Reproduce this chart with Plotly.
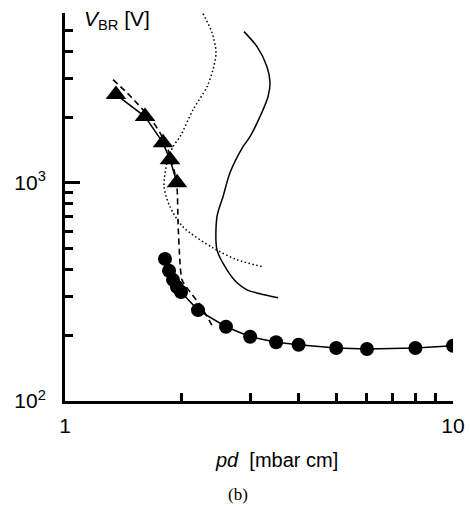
import plotly.graph_objects as go

# ---- data (pd in mbar cm, V_BR in V) ----
tri_pd = [1.353, 1.608, 1.789, 1.865, 1.944]
tri_v = [2535, 2010, 1524, 1276, 1000]

circ_pd = [1.81, 1.854, 1.898, 1.944, 1.991, 2.202, 2.60, 3.0, 3.5, 4.0, 5.0, 6.0, 8.0, 10.0]
circ_v = [448, 395, 359, 333, 316, 261, 219, 197, 186, 181, 175, 173, 175, 179]

dash_pd = [1.33, 1.47, 1.656, 1.757, 1.843, 1.91, 1.944, 1.956, 1.979, 2.002, 2.10, 2.228, 2.407]
dash_v = [2970, 2506, 1988, 1696, 1417, 1147, 959, 655, 430, 359, 316, 276, 218]

dot_pd = [2.268, 2.393, 2.45, 2.407, 2.323, 2.138, 1.979, 1.898, 1.832, 1.80, 1.865, 2.014, 2.407, 2.776, 3.238]
dot_v = [5957, 4875, 3948, 3299, 2757, 2162, 1626, 1463, 1235, 959, 776, 628, 503, 444, 412]

sol_pd = [2.893, 3.125, 3.316, 3.376, 3.336, 3.181, 2.998, 2.876, 2.662, 2.554, 2.464, 2.464, 2.615, 2.776, 2.945, 3.181, 3.54]
sol_v = [4928, 4207, 3405, 2876, 2480, 2009, 1626, 1463, 1111, 863, 698, 493, 399, 348, 323, 310, 297]

x_major = [1, 10]
x_major_text = ["1", "10"]
x_minor = [2, 3, 4, 5, 6, 7, 8, 9]
y_major = [100, 1000]
y_major_text = ["10<sup>2</sup>", "10<sup>3</sup>"]
y_minor = [200, 300, 400, 500, 600, 700, 800, 900, 2000, 3000, 4000, 5000, 6000]

FONT = "Liberation Sans, Arial, sans-serif"

fig = go.Figure()
fig.add_trace(go.Scatter(x=dot_pd, y=dot_v, mode="lines",
                         line=dict(color="black", width=1.5, dash="1.5px,2.5px", shape="spline", smoothing=0.8)))
fig.add_trace(go.Scatter(x=sol_pd, y=sol_v, mode="lines",
                         line=dict(color="black", width=1.5, shape="spline", smoothing=0.8)))
fig.add_trace(go.Scatter(x=dash_pd, y=dash_v, mode="lines",
                         line=dict(color="black", width=1.6, dash="6px,4px", shape="spline", smoothing=0.6)))
fig.add_trace(go.Scatter(x=tri_pd, y=tri_v, mode="lines+markers",
                         line=dict(color="black", width=1.5),
                         marker=dict(symbol="triangle-up", size=18, color="black")))
fig.add_trace(go.Scatter(x=circ_pd, y=circ_v, mode="lines+markers",
                         line=dict(color="black", width=1.5),
                         marker=dict(symbol="circle", size=14, color="black")))

fig.update_layout(
    width=470, height=508,
    margin=dict(l=65, r=17, t=13, b=107, autoexpand=False),
    paper_bgcolor="white", plot_bgcolor="white",
    showlegend=False,
    font=dict(family=FONT, size=21, color="black"),
)
fig.update_xaxes(
    type="log", range=[0, 1], automargin=False,
    showgrid=False, zeroline=False,
    showline=True, linecolor="black", linewidth=3,
    tickmode="array", tickvals=x_major, ticktext=x_major_text,
    ticks="inside", ticklen=14, tickwidth=3, tickcolor="black",
    ticklabelstandoff=4,
    tickfont=dict(family=FONT, size=21),
    minor=dict(tickmode="array", tickvals=x_minor, ticks="inside", ticklen=8, tickwidth=3,
               tickcolor="black", showgrid=False),
)
fig.update_yaxes(
    type="log", range=[2, 3.778], automargin=False,
    showgrid=False, zeroline=False,
    showline=True, linecolor="black", linewidth=3,
    tickmode="array", tickvals=y_major, ticktext=y_major_text,
    ticks="inside", ticklen=15, tickwidth=3, tickcolor="black",
    ticklabelstandoff=12,
    tickfont=dict(family=FONT, size=21),
    minor=dict(tickmode="array", tickvals=y_minor, ticks="inside", ticklen=8, tickwidth=3,
               tickcolor="black", showgrid=False),
)

fig.add_annotation(xref="paper", yref="paper", x=0.546, y=-0.152,
                   text="<i>pd</i>  [mbar cm]", showarrow=False,
                   xanchor="center", yanchor="middle",
                   font=dict(family=FONT, size=20, color="black"))
fig.add_annotation(xref="paper", yref="paper", x=0.446, y=-0.242,
                   text="(b)", showarrow=False,
                   xanchor="center", yanchor="middle",
                   font=dict(family="Liberation Serif, Times New Roman, serif", size=17, color="black"))
fig.add_annotation(xref="paper", yref="paper", x=0.045, y=0.982,
                   text="<i>V</i><sub>BR</sub> [V]", showarrow=False,
                   xanchor="left", yanchor="middle",
                   font=dict(family=FONT, size=21, color="black"))

fig.write_html("out.html")
